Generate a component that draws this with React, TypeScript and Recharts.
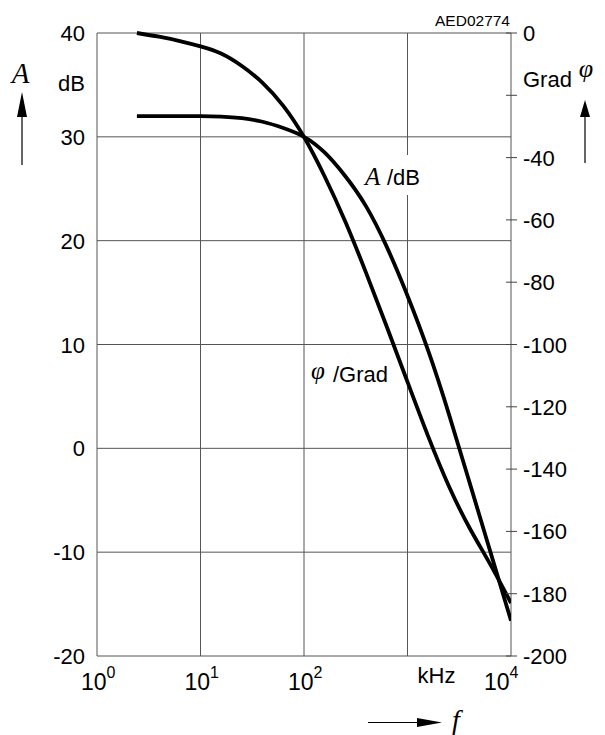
import React from 'react';
import { LineChart, Line, XAxis, YAxis, CartesianGrid } from 'recharts';

// frequency in kHz (log axis)
const freq = [2.43, 3.98, 6.31, 10, 15.8, 25.1, 39.8, 63.1, 100, 158, 251, 398, 631, 1000, 1585, 2512, 3981, 6310, 10000];
// amplitude A in dB
const ampDb = [32, 32, 32, 32, 31.95, 31.8, 31.45, 30.85, 30, 28.5, 26.2, 23.3, 19.4, 14.7, 9.4, 3.3, -3.3, -9.95, -16.6];
// phase in Grad
const phaseDeg = [0, -1.2, -2.6, -4.3, -6.6, -10.6, -16, -23.4, -33.4, -46, -60.6, -77, -94.3, -112, -129.5, -145.5, -158.9, -170.6, -183];

const freqTicks = [1, 10, 100, 1000, 10000];
const dbTicks = [-20, -10, 0, 10, 20, 30, 40];
const degTicks = [-200, -180, -160, -140, -120, -100, -80, -60, -40, -20, 0];

const data = freq.map((f, i) => ({ f, a: ampDb[i], p: phaseDeg[i] }));

const SANS = "'Liberation Sans', Arial, Helvetica, sans-serif";
const SERIF = "'Liberation Serif', 'Times New Roman', serif";

const XTick = (props: any) => {
  const { x, y, payload } = props;
  const v = payload.value;
  if (v === 1000) {
    return (
      <text x={x + 10} y={y + 27} fontSize={22} fontFamily={SANS} fill="#000">kHz</text>
    );
  }
  const exp = Math.round(Math.log10(v));
  const shift = v === 10000 ? 27 : 16;
  return (
    <text x={x - shift} y={y + 34} fontSize={23} fontFamily={SANS} fill="#000">
      10<tspan dy={-12} fontSize={16}>{exp}</tspan>
    </text>
  );
};

const LeftTick = (props: any) => {
  const { x, y, payload } = props;
  return (
    <text x={x - 12} y={y + 8} textAnchor="end" fontSize={22} fontFamily={SANS} fill="#000">
      {payload.value}
    </text>
  );
};

// -20 has only a tick mark, its place is taken by the "Grad" unit
const RightTick = (props: any) => {
  const { x, y, payload } = props;
  return (
    <g>
      <line x1={x - 5} x2={x + 6} y1={y} y2={y} stroke="#444" strokeWidth={1} />
      {payload.value !== -20 && (
        <text x={x + 12} y={y + 8} textAnchor="start" fontSize={22} fontFamily={SANS} fill="#000">
          {payload.value}
        </text>
      )}
    </g>
  );
};

export default function App() {
  return (
    <div style={{ position: 'absolute', left: 0, top: 0, width: 605, height: 735, background: '#fff' }}>
      <LineChart width={605} height={735} data={data} margin={{ top: 33, right: 34, bottom: 39, left: 37 }}>
        <CartesianGrid yAxisId="db" stroke="#555" strokeWidth={1} />
        <XAxis
          dataKey="f"
          type="number"
          scale="log"
          domain={[1, 10000]}
          ticks={freqTicks}
          allowDataOverflow
          axisLine={false}
          tickLine={false}
          tickSize={0}
          tickMargin={0}
          height={40}
          interval={0}
          tick={XTick}
        />
        <YAxis
          yAxisId="db"
          orientation="left"
          domain={[-20, 40]}
          ticks={dbTicks}
          width={60}
          axisLine={false}
          tickLine={false}
          tickSize={0}
          tickMargin={0}
          interval={0}
          tick={LeftTick}
        />
        <YAxis
          yAxisId="deg"
          orientation="right"
          domain={[-200, 0]}
          ticks={degTicks}
          width={60}
          axisLine={false}
          tickLine={false}
          tickSize={0}
          tickMargin={0}
          interval={0}
          tick={RightTick}
        />
        <Line
          yAxisId="db"
          dataKey="a"
          type="natural"
          stroke="#000"
          strokeWidth={3.8}
          dot={false}
          isAnimationActive={false}
        />
        <Line
          yAxisId="deg"
          dataKey="p"
          type="natural"
          stroke="#000"
          strokeWidth={3.8}
          dot={false}
          isAnimationActive={false}
        />
      </LineChart>

      {/* annotations */}
      <svg width={605} height={735} style={{ position: 'absolute', left: 0, top: 0, pointerEvents: 'none' }}>
        <text x={510} y={26} textAnchor="end" fontSize={15.5} fontFamily={SANS} fill="#000">AED02774</text>

        <text x={20.5} y={83} textAnchor="middle" fontSize={29} fontStyle="italic" fontFamily={SERIF} fill="#000">A</text>
        <line x1={22} x2={22} y1={165} y2={112} stroke="#000" strokeWidth={1.2} />
        <polygon points="22,92 17,117 27,117" fill="#000" />
        <text x={85} y={91} textAnchor="end" fontSize={22} fontFamily={SANS} fill="#000">dB</text>

        <text x={523} y={87} fontSize={22} fontFamily={SANS} fill="#000">Grad</text>
        <text x={586} y={77} textAnchor="middle" fontSize={26} fontStyle="italic" fontFamily={SERIF} fill="#000">φ</text>
        <line x1={585} x2={585} y1={163} y2={112} stroke="#000" strokeWidth={1.2} />
        <polygon points="585,100 580,117 590,117" fill="#000" />

        <rect x={362} y={155} width={60} height={40} fill="#fff" />
        <text x={365} y={185} fontSize={25} fontStyle="italic" fontFamily={SERIF} fill="#000">A</text>
        <text x={387} y={185} fontSize={22} fontFamily={SANS} fill="#000">/dB</text>

        <text x={311} y={379} fontSize={25} fontStyle="italic" fontFamily={SERIF} fill="#000">φ</text>
        <text x={333} y={382} fontSize={22} fontFamily={SANS} fill="#000">/Grad</text>

        <line x1={368} x2={425} y1={722.5} y2={722.5} stroke="#000" strokeWidth={1.2} />
        <polygon points="442,722.5 417,718 417,727" fill="#000" />
        <text x={452} y={729} fontSize={28} fontStyle="italic" fontFamily={SERIF} fill="#000">f</text>
      </svg>
    </div>
  );
}
